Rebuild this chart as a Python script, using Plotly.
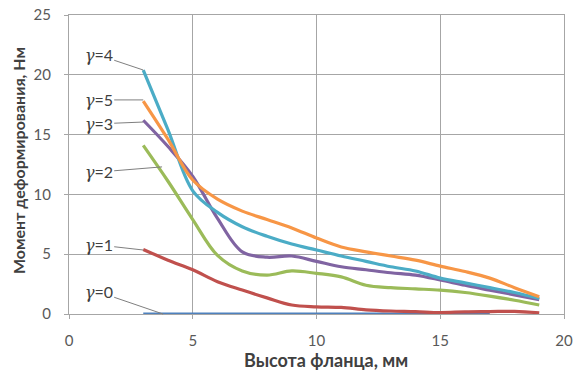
import plotly.graph_objects as go

# Flange height, mm
x_full = [3, 4, 5, 6, 7, 8, 9, 10, 11, 12, 13, 14, 15, 16, 17, 18, 19]
x_g0 = [3, 4, 5, 6, 7, 8, 9, 10, 11, 12, 13, 14, 15, 16, 17]

# Deformation moment, N*m, for each gamma
m_g0 = [0, 0, 0, 0, 0, 0, 0, 0, 0, 0, 0, 0, 0, 0, 0]
m_g1 = [5.4, 4.5, 3.7, 2.7, 2.0, 1.35, 0.75, 0.6, 0.55, 0.35, 0.25, 0.2, 0.12, 0.18, 0.2, 0.22, 0.1]
m_g2 = [14.1, 11.1, 7.9, 4.9, 3.6, 3.25, 3.6, 3.4, 3.1, 2.4, 2.2, 2.1, 2.0, 1.8, 1.5, 1.15, 0.75]
m_g3 = [16.2, 14.0, 11.5, 8.0, 5.2, 4.75, 4.85, 4.4, 3.95, 3.7, 3.45, 3.25, 2.85, 2.4, 2.0, 1.6, 1.2]
m_g4 = [20.4, 15.4, 10.3, 8.5, 7.3, 6.5, 5.85, 5.35, 4.85, 4.4, 3.95, 3.6, 3.0, 2.6, 2.2, 1.8, 1.3]
m_g5 = [17.8, 14.6, 11.2, 9.6, 8.6, 7.9, 7.2, 6.35, 5.6, 5.2, 4.85, 4.5, 4.0, 3.55, 3.0, 2.2, 1.45]

series = [
    ("0", x_g0, m_g0, "#4F81BD"),
    ("1", x_full, m_g1, "#C0504D"),
    ("2", x_full, m_g2, "#9BBB59"),
    ("3", x_full, m_g3, "#8064A2"),
    ("4", x_full, m_g4, "#4BACC6"),
    ("5", x_full, m_g5, "#F79646"),
]

# Label placement (text centre) and the curve point each leader line points to
label_text_pos = {
    "4": (1.2, 21.65), "5": (1.2, 17.9), "3": (1.2, 15.9),
    "2": (1.2, 11.87), "1": (1.2, 5.77), "0": (1.2, 1.84),
}
label_target = {
    "4": (3.0, 20.4), "5": (3.0, 17.9), "3": (3.0, 16.05),
    "2": (3.76, 12.3), "1": (3.0, 5.35), "0": (3.8, 0.0),
}

SANS = "Lato, 'Open Sans', sans-serif"

fig = go.Figure()
for g, xs, ys, color in series:
    fig.add_trace(go.Scatter(
        x=xs, y=ys, mode="lines", name="γ=" + g,
        line=dict(color=color, width=3.2, shape="spline", smoothing=1.0),
        showlegend=False,
    ))

plot_h = 372 - 15 - 58
plot_w = 573 - 69 - 9

annotations = []
for g, _, _, _ in series:
    tx, ty = label_text_pos[g]
    px, py = label_target[g]
    annotations.append(dict(
        x=px, y=py, xref="x", yref="y",
        ax=tx, ay=ty, axref="x", ayref="y",
        text="<span style=\"font-family:'DejaVu Serif'\"><i>γ</i></span>=" + g,
        showarrow=True, arrowhead=0, arrowwidth=1, arrowcolor="#7F7F7F",
        font=dict(family=SANS, size=16, color="#404040"),
        xanchor="center", yanchor="middle",
    ))

annotations.append(dict(
    x=(18 - 69) / plot_w, y=(314 - 161) / plot_h, xref="paper", yref="paper",
    text="<b>Момент деформирования, Нм</b>", showarrow=False, textangle=-90,
    xanchor="center", yanchor="middle",
    font=dict(family=SANS, size=16, color="#404040"),
))
annotations.append(dict(
    x=(326 - 69) / plot_w, y=(314 - 360) / plot_h, xref="paper", yref="paper",
    text="<b>Высота фланца, мм</b>", showarrow=False,
    xanchor="center", yanchor="middle",
    font=dict(family=SANS, size=18, color="#404040"),
))

fig.update_layout(
    annotations=annotations,
    width=573, height=372,
    margin=dict(l=69, r=9, t=15, b=58),
    paper_bgcolor="white", plot_bgcolor="white",
    font=dict(family=SANS, size=15, color="#595959"),
)

fig.update_xaxes(
    range=[0, 20], tickvals=[0, 5, 10, 15, 20],
    showgrid=True, gridcolor="#A6A6A6", gridwidth=1,
    showline=True, linecolor="#A6A6A6", mirror=True,
    ticks="outside", ticklen=4, tickcolor="#A6A6A6",
    zeroline=False, ticklabelstandoff=9, automargin=False,
)
fig.update_yaxes(
    range=[0, 25], tickvals=[0, 5, 10, 15, 20, 25],
    showgrid=True, gridcolor="#A6A6A6", gridwidth=1,
    showline=True, linecolor="#A6A6A6", mirror=True,
    ticks="outside", ticklen=4, tickcolor="#A6A6A6",
    zeroline=False, ticklabelstandoff=10, automargin=False,
)

fig.write_html("out.html")
